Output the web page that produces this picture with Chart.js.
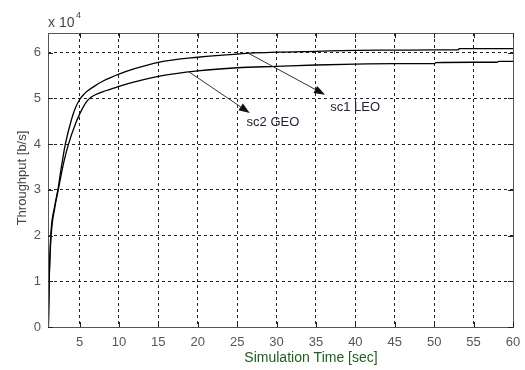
<!DOCTYPE html>
<html>
<head>
<meta charset="utf-8">
<script src="https://cdn.jsdelivr.net/npm/chart.js@4.4.0/dist/chart.umd.min.js"></script>
<style>
html,body{margin:0;padding:0;background:#fff;overflow:hidden;}
#wrap{position:relative;width:545px;height:370px;}
</style>
</head>
<body>
<div id="wrap"><canvas id="c"></canvas></div>
<script>
// ---- data (Throughput in b/s, time in sec) ----
const timeLEO = [1.05, 1.15, 1.35, 1.8, 2.25, 2.7, 3.2, 4.0, 4.5, 5.0, 5.5, 6, 7, 8, 10, 12, 15, 20, 25, 30, 35, 40, 45, 50, 53, 53.2, 56, 60];
const sc1LEO  = [0, 10000, 20000, 26000, 30000, 35000, 40000, 45500, 48000, 49700, 50800, 51600, 52800, 53800, 55300, 56500, 57900, 59000, 59700, 60100, 60300, 60500, 60550, 60600, 60600, 60900, 60900, 60900];
const timeGEO = [1.05, 1.15, 1.4, 1.85, 2.3, 3.0, 3.6, 4.5, 5.0, 5.5, 6.0, 6.5, 7, 8, 10, 12, 15, 20, 25, 30, 35, 40, 45, 50, 50.2, 55, 58, 58.2, 60];
const sc2GEO  = [0, 10000, 20000, 26000, 30000, 36000, 40000, 44500, 46500, 48200, 49500, 50300, 50800, 51500, 52600, 53600, 54800, 56000, 56700, 57000, 57300, 57500, 57600, 57600, 57800, 57900, 57900, 58100, 58100];
const xTickVals = [5, 10, 15, 20, 25, 30, 35, 40, 45, 50, 55, 60];
const yTickVals = [0, 10000, 20000, 30000, 40000, 50000, 60000];
const xRange = [1, 60];
const yRange = [0, 64300];
// annotations: [label, arrowStartX, arrowStartY, arrowTipX, arrowTipY, textX, textY]
const notes = [
  ['sc1 LEO', 26.4, 59900, 36.15, 50800, 36.8, 48100],
  ['sc2 GEO', 18.8, 55900, 26.6, 46800, 26.2, 44700]
];
const xTitle = 'Simulation Time [sec]';
const yTitle = 'Throughput [b/s]';

const FONT = '"Liberation Sans", Arial, sans-serif';

const toPts = (xs, ys) => xs.map((x, i) => ({x: x, y: ys[i]}));

const framePlugin = {
  id: 'frame',
  afterDatasetsDraw(chart) {
    const ctx = chart.ctx, a = chart.chartArea;
    const xs = chart.scales.x, ys = chart.scales.y;
    ctx.save();
    // annotations
    notes.forEach(n => {
      const x1 = xs.getPixelForValue(n[1]), y1 = ys.getPixelForValue(n[2]);
      const x2 = xs.getPixelForValue(n[3]), y2 = ys.getPixelForValue(n[4]);
      const ang = Math.atan2(y2 - y1, x2 - x1);
      const L = 11, W = 4;
      ctx.strokeStyle = '#333'; ctx.lineWidth = 1; ctx.setLineDash([]);
      ctx.beginPath(); ctx.moveTo(x1, y1);
      ctx.lineTo(x2 - L * Math.cos(ang), y2 - L * Math.sin(ang)); ctx.stroke();
      ctx.fillStyle = '#111';
      ctx.beginPath();
      ctx.moveTo(x2, y2);
      ctx.lineTo(x2 - L * Math.cos(ang) + W * Math.sin(ang), y2 - L * Math.sin(ang) - W * Math.cos(ang));
      ctx.lineTo(x2 - L * Math.cos(ang) - W * Math.sin(ang), y2 - L * Math.sin(ang) + W * Math.cos(ang));
      ctx.closePath(); ctx.fill();
      ctx.fillStyle = '#222233';
      ctx.font = '13px ' + FONT;
      ctx.textAlign = 'left'; ctx.textBaseline = 'middle';
      ctx.fillText(n[0], xs.getPixelForValue(n[5]), ys.getPixelForValue(n[6]));
    });
    // frame
    ctx.strokeStyle = '#555'; ctx.lineWidth = 1;
    ctx.strokeRect(Math.round(a.left) + 0.5, Math.round(a.top) + 0.5, Math.round(a.right - a.left), Math.round(a.bottom - a.top));
    // inward tick marks
    ctx.strokeStyle = '#222';
    ctx.beginPath();
    xTickVals.forEach(v => {
      const p = Math.round(xs.getPixelForValue(v)) + 0.5;
      ctx.moveTo(p, a.bottom); ctx.lineTo(p, a.bottom - 5);
      ctx.moveTo(p, a.top); ctx.lineTo(p, a.top + 5);
    });
    yTickVals.forEach(v => {
      const p = Math.round(ys.getPixelForValue(v)) + 0.5;
      ctx.moveTo(a.left, p); ctx.lineTo(a.left + 5, p);
      ctx.moveTo(a.right, p); ctx.lineTo(a.right - 5, p);
    });
    ctx.stroke();
    // exponent label
    ctx.fillStyle = '#444';
    ctx.textAlign = 'left'; ctx.textBaseline = 'middle';
    ctx.font = '14px ' + FONT;
    ctx.fillText('x 10', 48, 23);
    ctx.font = '9px ' + FONT;
    ctx.fillText('4', 76, 16);
    // axis titles
    ctx.font = '14px ' + FONT;
    ctx.fillStyle = '#1e5e1e';
    ctx.textAlign = 'center';
    ctx.fillText(xTitle, 311, 358);
    ctx.save();
    ctx.translate(22, 178);
    ctx.rotate(-Math.PI / 2);
    ctx.fillStyle = '#444';
    ctx.font = '13px ' + FONT;
    ctx.fillText(yTitle, 0, 0);
    ctx.restore();
    ctx.restore();
  }
};

new Chart(document.getElementById('c'), {
  type: 'line',
  data: {
    datasets: [
      {label: 'sc1 LEO', data: toPts(timeLEO, sc1LEO), borderColor: '#000', borderWidth: 1.3, pointRadius: 0, cubicInterpolationMode: 'monotone', fill: false},
      {label: 'sc2 GEO', data: toPts(timeGEO, sc2GEO), borderColor: '#000', borderWidth: 1.3, pointRadius: 0, cubicInterpolationMode: 'monotone', fill: false}
    ]
  },
  plugins: [framePlugin],
  options: {
    responsive: true,
    maintainAspectRatio: false,
    animation: false,
    layout: {padding: {left: 0, top: 33, right: 32, bottom: 0}},
    plugins: {legend: {display: false}, tooltip: {enabled: false}},
    scales: {
      x: {
        type: 'linear', min: xRange[0], max: xRange[1],
        afterBuildTicks: s => { s.ticks = xTickVals.map(v => ({value: v})); },
        afterFit: s => { s.height = 43; },
        grid: {color: '#222', lineWidth: 1, tickLength: 0, drawTicks: false},
        border: {display: false, dash: [3, 3]},
        ticks: {color: '#555', font: {family: FONT, size: 13}, padding: 8, maxRotation: 0, autoSkip: false, callback: v => String(v)}
      },
      y: {
        type: 'linear', min: yRange[0], max: yRange[1],
        afterBuildTicks: s => { s.ticks = yTickVals.map(v => ({value: v})); },
        afterFit: s => { s.width = 48; },
        grid: {color: '#222', lineWidth: 1, drawTicks: false},
        border: {display: false, dash: [3, 3]},
        ticks: {color: '#555', font: {family: FONT, size: 13}, padding: 7, callback: v => String(v / 10000)}
      }
    }
  }
});
</script>
</body>
</html>
